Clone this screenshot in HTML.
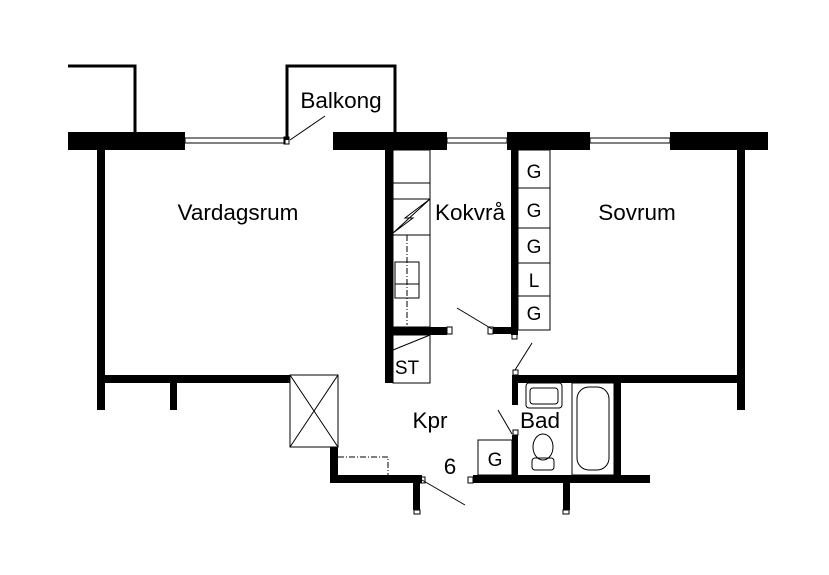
<!DOCTYPE html>
<html><head><style>body{margin:0;background:#fff}svg{display:block}text{font-family:"Liberation Sans",sans-serif;fill:#000}</style></head><body>
<svg width="829" height="575" viewBox="0 0 829 575" xmlns="http://www.w3.org/2000/svg">
<rect width="829" height="575" fill="#fff"/>
<g fill="none" stroke="#000" stroke-width="3">
<polyline points="68,66 135,66 135,132"/>
<polyline points="287,140 287,66 395,66 395,132"/>
</g>
<g fill="#000">
<rect x="68" y="132" width="117" height="18"/>
<rect x="333" y="132" width="114" height="18"/>
<rect x="507" y="132" width="83" height="18"/>
<rect x="670" y="132" width="98" height="18"/>
<rect x="97" y="150" width="8" height="260"/>
<rect x="97" y="375" width="193" height="8"/>
<rect x="170" y="383" width="7" height="27"/>
<rect x="385" y="150" width="8" height="233"/>
<rect x="385" y="327" width="62" height="8"/>
<rect x="511" y="150" width="7" height="185"/>
<rect x="493" y="327" width="25" height="7"/>
<rect x="737" y="150" width="8" height="260"/>
<rect x="512" y="375" width="233" height="8"/>
<rect x="512" y="375" width="6" height="30"/>
<rect x="512" y="435" width="6" height="45"/>
<rect x="614" y="375" width="7" height="105"/>
<rect x="473" y="475" width="177" height="8"/>
<rect x="563" y="483" width="7" height="27"/>
<rect x="330" y="447" width="8" height="36"/>
<rect x="330" y="475" width="92" height="8"/>
<rect x="413" y="483" width="7" height="27"/>
</g>
<g fill="none" stroke="#000" stroke-width="1">
<rect x="185" y="138" width="100" height="5"/>
<rect x="447" y="138" width="60" height="5"/>
<rect x="590" y="138" width="80" height="5"/>
<line x1="290" y1="140" x2="325" y2="116"/>
<rect x="393" y="150" width="37" height="177"/>
<line x1="393" y1="183" x2="430" y2="183"/>
<line x1="393" y1="199" x2="430" y2="199"/>
<polyline points="393,233 430,199 405,218 413,218 393,233"/>
<line x1="393" y1="235" x2="430" y2="235"/>
<line x1="407" y1="235" x2="407" y2="325" stroke-dasharray="6,2,1,2"/>
<rect x="395" y="262" width="24" height="36"/>
<line x1="395" y1="284" x2="419" y2="284"/>
<rect x="393" y="335" width="37" height="48"/>
<line x1="393" y1="350" x2="430" y2="335"/>
<rect x="518" y="150" width="32" height="180"/>
<line x1="518" y1="188" x2="550" y2="188"/>
<line x1="518" y1="228" x2="550" y2="228"/>
<line x1="518" y1="263" x2="550" y2="263"/>
<line x1="518" y1="296" x2="550" y2="296"/>
<line x1="457" y1="308" x2="492" y2="329"/>
<line x1="515" y1="370" x2="532" y2="343"/>
<line x1="498" y1="410" x2="512" y2="434"/>
<line x1="422" y1="480" x2="465" y2="505"/>
<rect x="290" y="375" width="48" height="72"/>
<line x1="290" y1="375" x2="338" y2="447"/>
<line x1="338" y1="375" x2="290" y2="447"/>
<polyline points="338,457 388,457 388,475" stroke-dasharray="6,2,1,2"/>
<rect x="478" y="440" width="34" height="35"/>
<rect x="572" y="383" width="42" height="92"/>
<rect x="577" y="387" width="32" height="83" rx="12"/>
<rect x="526" y="383" width="36" height="25" rx="3"/>
<rect x="530" y="388" width="28" height="16" rx="3"/>
<ellipse cx="543" cy="447" rx="10" ry="13"/>
<rect x="532" y="458" width="22" height="12" rx="3"/>
<rect x="513" y="370" width="5" height="5"/>
<rect x="513" y="430" width="5" height="5"/>
<rect x="284" y="137" width="5" height="7"/>
<rect x="447" y="327" width="5" height="7"/>
<rect x="488" y="327" width="5" height="7"/>
<rect x="512" y="334" width="5" height="5"/>
<rect x="420" y="477" width="5" height="6"/>
<rect x="468" y="477" width="5" height="6"/>
<rect x="414" y="510" width="6" height="4"/>
<rect x="563" y="510" width="6" height="4"/>
</g>
<g font-size="22.5" text-anchor="middle">
<text x="341" y="108">Balkong</text>
<text x="238" y="220">Vardagsrum</text>
<text x="470" y="220">Kokvrå</text>
<text x="637" y="220">Sovrum</text>
<text x="430" y="428">Kpr</text>
<text x="540" y="428">Bad</text>
<text x="450" y="474">6</text>
</g>
<g font-size="19" text-anchor="middle">
<text x="534" y="178">G</text>
<text x="534" y="217">G</text>
<text x="534" y="253">G</text>
<text x="534" y="287">L</text>
<text x="534" y="320">G</text>
<text x="495" y="466">G</text>
<text x="407" y="374">ST</text>
</g>
</svg>
</body></html>
